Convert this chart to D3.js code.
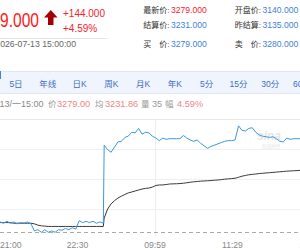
<!DOCTYPE html>
<html>
<head>
<meta charset="utf-8">
<script src="https://cdn.jsdelivr.net/npm/d3@7"></script>
<style>
html, body { margin: 0; padding: 0; background: #fff; overflow: hidden; }
svg { display: block; }
text { font-family: "Liberation Sans", "Noto Sans CJK SC", sans-serif; }
</style>
</head>
<body>
<div id="chart"></div>
<script>
'use strict';

// ---------------- data ----------------
var lastPrice   = '3279.000';
var changeAbs   = '+144.000';
var changePct   = '+4.59%';
var quoteTime   = '2026-07-13 15:00:00';
var prevSettle  = 3135;

var quoteLabels = ['最新价:', '结算价:', '买\u3000价:', '开盘价:', '昨结算:', '卖\u3000价:'];
var quoteValues = ['3279.000', '3231.000', '3279.000', '3140.000', '3135.000', '3280.000'];

var tabNames    = ['5日', '年线', '日K', '周K', '月K', '年K', '5分', '15分', '30分', '60分'];

var infoLabels  = ['价', '均', '量', '幅'];
var infoValues  = ['3279.00', '3231.86', '35', '4.59%'];
var infoTime    = '07-13/一15:00';

// minute index: night session starts at 0, day session at 121, one sample every 4 minutes
var nightPrices = [3150, 3148, 3151, 3148, 3150, 3147, 3149, 3148, 3150, 3147,
                   3136, 3138, 3134, 3138, 3134, 3136, 3134, 3138, 3137, 3140,
                   3138, 3141, 3139, 3152, 3149, 3151, 3149, 3151, 3148, 3150, 3148];
var nightAvg    = [3149, 3149, 3149, 3149, 3148, 3148, 3148, 3148, 3148, 3148,
                   3147, 3145, 3144, 3143.5, 3143, 3143, 3143, 3143, 3143, 3143,
                   3143, 3143, 3143, 3143, 3143, 3143, 3143, 3143, 3143, 3143, 3143];
var dayPrices   = [3269, 3262, 3258, 3266, 3274, 3275, 3281, 3283, 3289, 3288,
                   3295, 3286, 3289, 3288, 3283, 3280, 3276, 3280, 3278, 3279,
                   3279, 3279, 3279, 3284, 3280, 3277, 3275, 3277, 3272, 3268,
                   3264, 3267, 3269, 3271, 3273, 3275, 3276, 3276, 3277, 3299,
                   3292, 3291, 3295, 3296, 3289, 3285, 3283, 3282, 3281, 3282,
                   3279, 3275, 3274, 3280, 3278, 3279, 3279, 3279, 3278, 3280, 3279];
var dayAvg      = [3156, 3170, 3178, 3183, 3187, 3190, 3192.5, 3195, 3196.4, 3198,
                   3199.5, 3201, 3202, 3202.6, 3204, 3206.5, 3207.3, 3207.3, 3208, 3208.8,
                   3209, 3209.2, 3209.5, 3210, 3210.7, 3211.6, 3212.2, 3212.7, 3213.2, 3213.5,
                   3213.8, 3214.2, 3214.7, 3215, 3215.6, 3216.3, 3216.7, 3217.2, 3217.7, 3219.2,
                   3220.9, 3222, 3223.1, 3223.7, 3224.3, 3225, 3225.4, 3225.9, 3226.3, 3226.8,
                   3227.3, 3227.7, 3228.2, 3228.7, 3229, 3229.3, 3229.6, 3230, 3230.5, 3231, 3231.86];
var dayStart    = 121;
var sampleStep  = 4;

var tickIndex   = [0, 90, 180, 270, 360];
var tickLabels  = ['21:00', '22:30', '09:59', '11:29', '14:59'];

function timeChart()
{
    var scope = this;
    var exports = {};

    scope.cw = 300;
    scope.ch = 250;
    scope.plot = {left: 0, right: 311.7, top: 120, bottom: 240};

    scope.red   = '#f5222d';
    scope.blue  = '#3f7fd6';
    scope.line  = '#3a98de';

    scope.xScale = undefined;
    scope.yScale = undefined;

    scope.appendSvg = function(div)
    {
        return d3.select(div).append('svg')
            .attr('width', scope.cw)
            .attr('height', scope.ch);
    }

    scope.drawHeader = function(svg)
    {
        var g = svg.append('g').attr('class', 'header');

        g.append('text')
            .attr('transform', 'translate(39,27) scale(0.78,1)')
            .attr('text-anchor', 'end')
            .attr('font-size', 20)
            .attr('fill', '#ff1a1a')
            .text(lastPrice);

        g.append('path')
            .attr('d', 'M44,17.5L50.8,10L57.5,17.5H53.5V25H48V17.5Z')
            .attr('fill', '#a50000');

        g.append('text').attr('x', 63).attr('y', 17)
            .attr('font-size', 10).attr('fill', scope.red).text(changeAbs);
        g.append('text').attr('x', 63).attr('y', 32)
            .attr('font-size', 10).attr('fill', scope.red).text(changePct);

        g.append('line')
            .attr('x1', 0).attr('x2', 107).attr('y1', 38.5).attr('y2', 38.5)
            .attr('stroke', '#e3e3e3');

        g.append('text')
            .attr('x', 76).attr('y', 47)
            .attr('text-anchor', 'end')
            .attr('font-size', 8.7).attr('fill', '#666')
            .text(quoteTime);

        // quote table, two columns of three rows
        var rowY = [13, 28, 46.5];
        var colX = [169.5, 261];
        quoteLabels.forEach(function(lab, i) {
            var col = Math.floor(i / 3), row = i % 3;
            g.append('text')
                .attr('x', colX[col]).attr('y', rowY[row])
                .attr('text-anchor', 'end')
                .attr('font-size', 8).attr('fill', '#333')
                .text(lab);
            g.append('text')
                .attr('x', colX[col] + 1.5).attr('y', rowY[row])
                .attr('font-size', 8.6)
                .attr('fill', i == 0 ? scope.red : scope.blue)
                .text(quoteValues[i]);
        });
    }

    scope.drawTabs = function(svg)
    {
        var g = svg.append('g').attr('class', 'tabs');

        g.append('rect')
            .attr('x', -1).attr('y', 71.5).attr('width', 302).attr('height', 22)
            .attr('fill', '#f0f4fc').attr('stroke', '#dfe7f5');

        g.append('line')
            .attr('x1', 0.5).attr('x2', 0.5).attr('y1', 71).attr('y2', 79)
            .attr('stroke', '#4a7fd0');

        var tabScale = d3.scalePoint().domain(tabNames).range([16, 302]);

        g.selectAll('text.tab')
            .data(tabNames)
            .enter()
            .append('text')
            .attr('class', 'tab')
            .attr('x', function(d){ return tabScale(d); })
            .attr('y', 87)
            .attr('text-anchor', 'middle')
            .attr('font-size', 8.5)
            .attr('fill', '#3d6fc4')
            .text(function(d){ return d; });
    }

    scope.drawInfo = function(svg)
    {
        var g = svg.append('g').attr('class', 'info');
        g.append('text')
            .attr('x', 43.5).attr('y', 106.5)
            .attr('text-anchor', 'end')
            .attr('font-size', 9).attr('fill', '#888')
            .text(infoTime);

        var labelX = [48, 95, 141, 165];
        var valueX = [57, 105, 152, 177];
        infoLabels.forEach(function(lab, i) {
            g.append('text').attr('x', labelX[i]).attr('y', 106.5)
                .attr('font-size', 8.5).attr('fill', '#999').text(lab);
            g.append('text').attr('x', valueX[i]).attr('y', 106.5)
                .attr('font-size', 9.2)
                .attr('fill', i == 2 ? '#999' : '#f08585')
                .text(infoValues[i]);
        });
    }

    scope.createScales = function()
    {
        scope.xScale = d3.scaleLinear().domain([0, 362]).range([scope.plot.left, scope.plot.right]);
        scope.yScale = d3.scaleLinear().domain([3122, 3308]).range([scope.plot.bottom, scope.plot.top]);
    }

    scope.drawGrid = function(svg)
    {
        var g = svg.append('g').attr('class', 'grid');
        var dom = scope.yScale.domain();
        var gridValues = d3.range(4).map(function(k){ return dom[1] - k * (dom[1] - dom[0]) / 4; });

        g.selectAll('line.h')
            .data(gridValues)
            .enter()
            .append('line')
            .attr('x1', 0).attr('x2', scope.cw)
            .attr('y1', function(d){ return Math.round(scope.yScale(d)) - 0.5; })
            .attr('y2', function(d){ return Math.round(scope.yScale(d)) - 0.5; })
            .attr('stroke', function(d, i){ return i == 0 ? '#e8e8e8' : '#f0f0f0'; });

        g.append('line')
            .attr('x1', Math.round(scope.xScale(tickIndex[2])) + 0.5)
            .attr('x2', Math.round(scope.xScale(tickIndex[2])) + 0.5)
            .attr('y1', scope.plot.top).attr('y2', 236)
            .attr('stroke', '#eeeeee');

        var py = Math.round(scope.yScale(prevSettle)) + 0.5;
        g.append('line')
            .attr('x1', 0).attr('x2', scope.cw)
            .attr('y1', py).attr('y2', py)
            .attr('stroke', '#aaa')
            .attr('stroke-dasharray', '4,3');

        // faint watermark
        g.append('text')
            .attr('x', 257).attr('y', 140)
            .attr('font-size', 12).attr('font-style', 'italic').attr('font-weight', 'bold')
            .attr('fill', '#e6e6e6')
            .text('sina');
        g.append('text')
            .attr('x', 262).attr('y', 148)
            .attr('font-size', 4.5).attr('fill', '#e6e6e6')
            .text('新浪财经');
    }

    scope.drawAxis = function(svg)
    {
        var g = svg.append('g').attr('class', 'xAxis');
        g.selectAll('text')
            .data(tickIndex)
            .enter()
            .append('text')
            .attr('x', function(d){ return scope.xScale(d); })
            .attr('y', 247.5)
            .attr('text-anchor', function(d, i){ return i == 0 ? 'start' : 'middle'; })
            .attr('font-size', 8.6)
            .attr('fill', '#888')
            .text(function(d, i){ return tickLabels[i]; });
    }

    scope.drawLines = function(svg)
    {
        var nightIdx = nightPrices.map(function(d, i){ return i * sampleStep; });
        var dayIdx   = dayPrices.map(function(d, i){ return dayStart + i * sampleStep; });
        var idx      = nightIdx.concat(dayIdx);
        var price    = nightPrices.concat(dayPrices);
        var avg      = nightAvg.concat(dayAvg);

        var pts = idx.map(function(t, i){ return {t: t, p: price[i], a: avg[i]}; });

        var priceLine = d3.line()
            .x(function(d){ return scope.xScale(d.t); })
            .y(function(d){ return scope.yScale(d.p); });
        var avgLine = d3.line()
            .x(function(d){ return scope.xScale(d.t); })
            .y(function(d){ return scope.yScale(d.a); });

        svg.append('path')
            .datum(pts)
            .attr('d', avgLine)
            .attr('fill', 'none')
            .attr('stroke', '#3a3a3a')
            .attr('stroke-width', 1);

        svg.append('path')
            .datum(pts)
            .attr('d', priceLine)
            .attr('fill', 'none')
            .attr('stroke', scope.line)
            .attr('stroke-width', 1);
    }

    //------------- exported API -----------------------------------

    exports.run = function(div)
    {
        var svg = scope.appendSvg(div);
        scope.createScales();
        scope.drawHeader(svg);
        scope.drawTabs(svg);
        scope.drawInfo(svg);
        scope.drawGrid(svg);
        scope.drawAxis(svg);
        scope.drawLines(svg);
    }

    return exports;
}

var chart = new timeChart();
chart.run('#chart');
</script>
</body>
</html>
